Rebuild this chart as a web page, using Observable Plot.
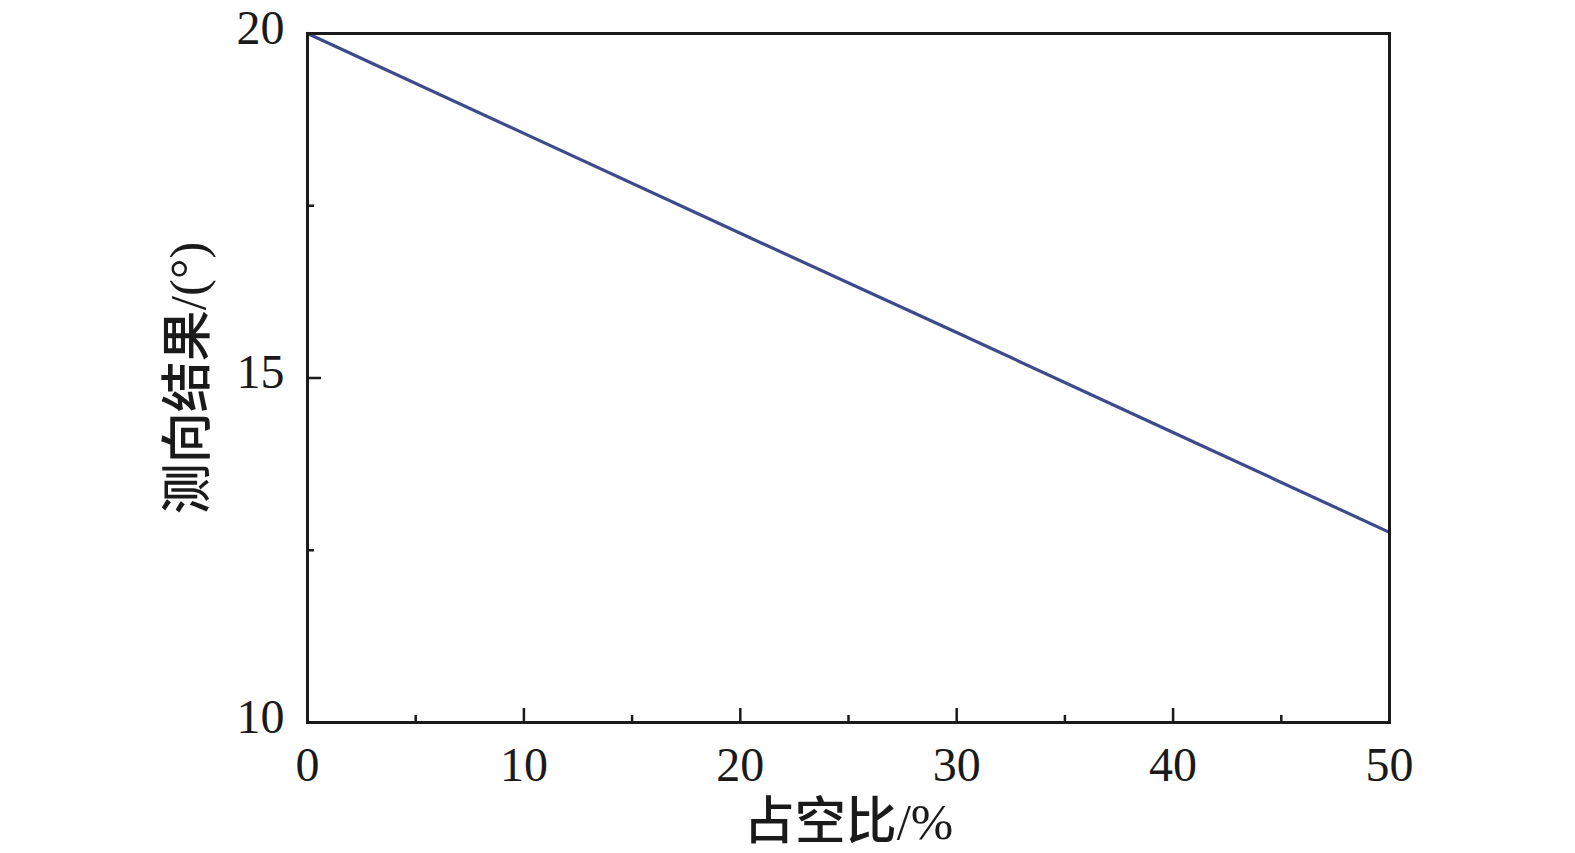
<!DOCTYPE html>
<html>
<head>
<meta charset="utf-8">
<script src="https://cdn.jsdelivr.net/npm/d3@7"></script>
<script src="https://cdn.jsdelivr.net/npm/@observablehq/plot@0.6"></script>
<style>
  html, body { margin: 0; padding: 0; background: #fff; }
  #chart svg { display: block; }
</style>
</head>
<body>
<div id="chart"></div>
<script>
// Data
const dutyCycle = [0, 10, 20, 30, 40, 50];          // 占空比 /%
const bearing   = [20, 18.55, 17.1, 15.66, 14.21, 12.76]; // 测向结果 /(°)
const xMajorTicks = [0, 10, 20, 30, 40, 50];
const xMinorTicks = [5, 15, 25, 35, 45];
const yMajorTicks = [10, 15, 20];
const yMinorTicks = [12.5, 17.5];
const xLabel = "占空比/%";
const yLabel = "测向结果/(°)";

const rows = dutyCycle.map((d, i) => ({x: d, y: bearing[i]}));

const font = "'Liberation Serif', 'Times New Roman', 'Noto Sans CJK SC', serif";
const ink = "#1a1a1a";

const chart = Plot.plot({
  width: 1575,
  height: 853,
  marginLeft: 307,
  marginRight: 186,
  marginTop: 33,
  marginBottom: 131,
  style: {fontFamily: font, background: "#fff", color: ink},
  x: {domain: [0, 50]},
  y: {domain: [10, 20]},
  marks: [
    Plot.line(rows, {x: "x", y: "y", stroke: "#3d4a8c", strokeWidth: 3.2}),
    // labels
    Plot.axisX(xMajorTicks, {tickSize: 0, tickPadding: 24, fontSize: 48, label: null, fill: ink, tickFormat: d => String(d)}),
    Plot.axisY(yMajorTicks, {tickSize: 0, tickPadding: 23, fontSize: 48, label: null, dy: -5, fill: ink, tickFormat: d => String(d)}),
    // inward ticks
    Plot.axisX(xMajorTicks, {tickSize: -14, text: null, label: null, strokeWidth: 2.5, stroke: ink}),
    Plot.axisX(xMinorTicks, {tickSize: -7, text: null, label: null, strokeWidth: 2.5, stroke: ink}),
    Plot.axisY(yMajorTicks, {tickSize: -14, text: null, label: null, strokeWidth: 2.5, stroke: ink}),
    Plot.axisY(yMinorTicks, {tickSize: -7, text: null, label: null, strokeWidth: 2.5, stroke: ink}),
    Plot.frame({stroke: ink, strokeWidth: 3}),
    // axis titles
    Plot.text([xLabel], {frameAnchor: "bottom", dy: 100, fontSize: 51, fontWeight: 500, fill: ink, textAnchor: "middle", lineAnchor: "middle"}),
    Plot.text([yLabel], {frameAnchor: "left", dx: -119, rotate: -90, fontSize: 51, fontWeight: 500, fill: ink, textAnchor: "middle", lineAnchor: "middle"})
  ]
});

document.getElementById("chart").appendChild(chart);
</script>
</body>
</html>
